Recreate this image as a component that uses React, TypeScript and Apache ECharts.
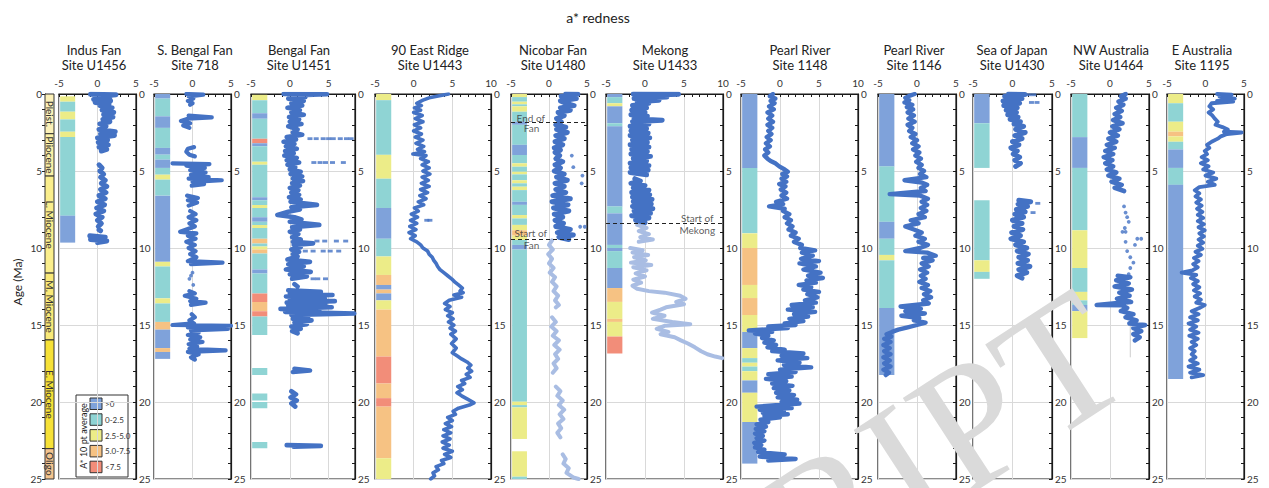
import React, { useEffect, useRef } from 'react';
import * as echarts from 'echarts';

// ---------- styling ----------
const FONT = 'Lato, "Liberation Sans", sans-serif';
const TRACE = '#4472c4';
const TRACE_LIGHT = '#a9bde3';
const STRIP_COLORS = ['#7fa2da', '#8fd4d4', '#ecec88', '#f6c283', '#f28d79'];
const LEGEND_LABELS = ['>0', '0-2.5', '2.5-5.0', '5.0-7.5', '<7.5'];

// ---------- geological time scale ----------
const epochNames = ['Pleist.', 'Pliocene', 'L. Miocene', 'M. Miocene', 'E. Miocene', 'Oligo'];
const epochSpans = [[0, 2.58, 0], [2.58, 5.33, 1], [5.33, 11.63, 2], [11.63, 15.97, 3], [15.97, 23.03, 4], [23.03, 25, 5]];
const epochColors = ['#fcf1b8', '#fbf0a6', '#faee8c', '#f9e978', '#f6e137', '#f4c48e'];

// ---------- a* records: [a*, age Ma]; strips: [topAge, bottomAge, class] ----------
const indusTrace = [
  [[-0.9, 0.02], [2.4, 0.05], [0.2, 0.15], [1.6, 0.25], [-0.5, 0.35], [1.7, 0.45], [-0.3, 0.55], [1.5, 0.65], [0.3, 0.75], [1.9, 0.9], [0.6, 1.05], [2.1, 1.2], [0.8, 1.35], [2.0, 1.5], [0.7, 1.65], [1.6, 1.8], [0.3, 1.95], [1.1, 2.1], [0.2, 2.3], [2.3, 2.45], [0.4, 2.6], [2.2, 2.7], [0.0, 2.85], [1.3, 3.0], [0.1, 3.15], [1.4, 3.3], [0.2, 3.45], [1.2, 3.6], [0.5, 3.7]],
  [[0.2, 4.6], [0.6, 4.8], [0.3, 5.0], [0.8, 5.2], [0.4, 5.4], [1.0, 5.6], [0.5, 5.8], [1.2, 6.0], [0.4, 6.2], [1.1, 6.4], [0.2, 6.6], [1.0, 6.8], [0.0, 7.0], [0.9, 7.2], [-0.1, 7.4], [0.8, 7.6], [-0.2, 7.8], [0.6, 8.0], [0.0, 8.2], [0.5, 8.4], [0.1, 8.6]],
  [[0.2, 8.82], [0.4, 8.88]],
  [[-1.0, 9.2], [1.0, 9.3], [-0.9, 9.45], [1.2, 9.55], [0.0, 9.65]],
];
const indusStrip = [[0.15, 0.5, 2], [0.5, 1.15, 1], [1.15, 1.65, 2], [1.65, 2.45, 1], [2.45, 2.8, 2], [2.8, 7.9, 1], [7.9, 9.65, 0]];

const sBengalTrace = [
  [[-0.8, 0.0], [1.4, 0.04], [-0.5, 0.15], [0.1, 0.3], [-0.6, 0.45], [0.0, 0.6], [-0.3, 0.7]],
  [[-0.5, 1.4], [2.5, 1.52], [-0.6, 1.6], [-1.5, 1.75], [-0.3, 1.9], [-1.2, 2.05], [-0.4, 2.2]],
  [[0.2, 3.45], [-0.6, 3.55], [-0.8, 3.75], [-0.4, 3.95], [0.3, 4.05]],
  [[-2.6, 4.5], [2.2, 4.55], [-0.8, 4.65], [1.6, 4.8], [-0.3, 4.95], [1.7, 5.1], [-0.2, 5.25], [2.1, 5.4], [-0.5, 5.5], [3.8, 5.6], [0.0, 5.7], [1.5, 5.85], [-0.1, 5.95]],
  [[-0.7, 6.6], [0.7, 6.75], [-0.6, 6.9], [0.6, 7.05], [-0.5, 7.25]],
  [[-0.3, 7.6], [0.4, 7.8], [-0.5, 8.0], [0.5, 8.2], [-0.4, 8.4], [0.3, 8.6], [-1.6, 8.95], [0.5, 9.05], [-0.6, 9.2], [0.4, 9.4], [-0.8, 9.6], [0.3, 9.8], [-0.5, 10.0], [0.4, 10.2], [-0.3, 10.4], [0.5, 10.6], [-0.6, 10.85], [3.9, 10.95], [-0.2, 11.05]],
  [[-0.4, 12.8], [0.3, 12.95], [-1.0, 13.1], [0.5, 13.3], [-0.3, 13.45], [1.7, 13.55], [-0.2, 13.7]],
  [[-0.1, 14.3], [0.3, 14.5], [-0.4, 14.7], [0.2, 14.9], [-2.6, 15.0], [5.0, 15.05], [-0.6, 15.15], [4.6, 15.25], [-0.2, 15.35], [0.8, 15.5], [-0.6, 15.65], [1.0, 15.8], [-0.3, 15.95], [1.3, 16.1], [-0.5, 16.25], [0.6, 16.4], [-0.4, 16.55], [4.3, 16.65], [-0.6, 16.75], [0.8, 16.9], [-0.2, 17.1], [0.3, 17.25]],
];
const sBengalDots = [[0.0, 11.6], [-0.2, 11.8], [-0.4, 12.0], [0.1, 12.4]];
const sBengalStrip = [[0, 0.3, 0], [0.3, 1.45, 1], [1.45, 2.2, 0], [2.2, 3.5, 1], [3.5, 3.94, 0], [3.94, 4.26, 1], [4.26, 4.8, 0], [4.8, 5.24, 1], [5.24, 5.56, 2], [5.56, 6.6, 1], [6.6, 10.9, 0], [10.9, 11.2, 2], [11.2, 13.27, 1], [13.27, 13.6, 2], [13.6, 14.8, 1], [14.8, 15.3, 3], [15.3, 16.5, 0], [16.5, 16.75, 3], [16.75, 17.2, 0]];

const bengalTrace = [
  [[-0.8, 0.0], [4.8, 0.02], [0.5, 0.1], [2.0, 0.2], [-0.2, 0.3], [1.8, 0.45], [0.2, 0.6], [1.6, 0.75], [-0.3, 0.9], [1.3, 1.05], [0.2, 1.2], [1.8, 1.35], [-0.1, 1.5], [1.2, 1.65], [0.0, 1.8], [1.5, 1.95], [-0.2, 2.1], [1.0, 2.3], [0.4, 2.5], [1.6, 2.65], [-0.4, 2.8], [0.8, 2.95], [-0.8, 3.1], [0.6, 3.25], [-0.5, 3.4], [0.9, 3.55], [-0.6, 3.7], [0.5, 3.85], [-0.7, 4.0], [0.9, 4.15], [-0.4, 4.3], [1.2, 4.45], [-0.3, 4.6], [0.7, 4.75], [0.0, 4.9], [1.4, 5.05], [0.1, 5.2], [1.6, 5.35], [0.4, 5.5], [1.7, 5.65], [0.3, 5.8], [1.3, 5.95], [0.0, 6.1], [1.1, 6.25], [0.2, 6.4], [1.2, 6.55], [-0.1, 6.7], [1.4, 6.85], [0.1, 7.0], [3.5, 7.2], [0.2, 7.35], [1.3, 7.5], [-0.2, 7.65], [-1.6, 7.85], [0.6, 8.0], [1.5, 8.15], [0.0, 8.3], [3.8, 8.5], [0.3, 8.65], [1.3, 8.8], [0.0, 8.95], [1.1, 9.1], [0.3, 9.3], [1.4, 9.45], [0.4, 9.6], [3.0, 9.7], [0.5, 9.8], [1.4, 9.95], [0.2, 10.1], [1.2, 10.25], [0.4, 10.4], [1.0, 10.55], [-0.3, 10.75], [2.6, 10.9], [-0.2, 11.05], [1.8, 11.2], [-0.5, 11.4], [2.7, 11.55], [0.0, 11.7], [2.2, 11.85], [0.3, 12.0]],
  [[0.6, 12.35], [1.0, 12.5]],
  [[-0.2, 12.75], [4.0, 12.85], [0.0, 12.95], [5.5, 13.05], [-0.5, 13.15], [4.5, 13.25], [0.0, 13.35], [5.8, 13.45], [-0.4, 13.55], [4.6, 13.65], [-0.2, 13.75], [5.4, 13.85], [-1.2, 13.95], [3.8, 14.05], [-0.6, 14.15], [8.3, 14.25], [0.2, 14.35], [2.4, 14.45]],
  [[0.4, 14.6], [2.8, 14.7], [0.6, 14.85], [2.2, 14.95], [0.2, 15.1], [1.4, 15.25], [0.3, 15.4], [1.0, 15.55]],
  [[0.6, 17.85], [2.6, 17.95], [0.4, 18.05]],
  [[0.2, 19.3], [0.8, 19.5], [0.1, 19.7], [0.9, 19.9], [0.2, 20.1], [0.7, 20.3]],
  [[-0.4, 22.8], [4.0, 22.85], [0.5, 22.9]],
];
const bengalDashes = [[2.6, 2.9], [3.4, 2.9], [4.3, 2.9], [5.0, 2.9], [5.6, 2.9], [6.5, 2.9], [7.3, 2.9], [7.9, 2.9], [3.1, 4.45], [3.9, 4.45], [4.6, 4.45], [5.5, 4.45], [6.9, 4.45], [3.5, 9.55], [4.5, 9.55], [6.0, 9.55], [7.2, 9.55], [2.0, 10.2], [3.0, 10.2], [4.3, 10.2], [5.2, 10.2], [6.3, 10.2], [3.0, 12.0], [3.6, 12.0], [4.6, 12.0]];
const bengalStrip = [[0.05, 0.4, 2], [0.4, 1.25, 1], [1.25, 1.6, 0], [1.6, 2.9, 1], [2.9, 3.2, 4], [3.2, 3.4, 0], [3.4, 4.4, 1], [4.4, 4.6, 2], [4.6, 6.7, 1], [6.7, 6.9, 0], [6.9, 7.2, 1], [7.2, 7.4, 2], [7.4, 8.0, 1], [8.0, 8.3, 0], [8.3, 8.5, 1], [8.5, 8.7, 2], [8.7, 9.4, 1], [9.4, 9.7, 3], [9.7, 9.9, 1], [9.9, 10.1, 2], [10.1, 10.35, 3], [10.35, 11.4, 1], [11.4, 11.65, 0], [11.65, 12.95, 1], [12.95, 13.5, 4], [13.5, 14.1, 3], [14.1, 14.45, 4], [14.45, 15.65, 1], [17.8, 18.25, 1], [19.45, 19.9, 1], [20.0, 20.4, 1], [22.6, 23.0, 1]];

const ninetyEastTrace = [
  [[4.5, 0.0], [3.5, 0.1], [2.0, 0.25], [1.2, 0.4], [0.4, 0.6], [1.0, 0.75], [0.1, 0.9], [0.9, 1.05], [0.0, 1.2], [1.1, 1.4], [0.2, 1.6], [1.2, 1.8], [0.1, 2.0], [0.9, 2.2], [0.0, 2.4], [1.0, 2.6], [0.2, 2.8], [1.2, 3.0], [0.3, 3.2], [1.3, 3.4], [0.5, 3.6], [1.4, 3.75], [-0.1, 3.9], [1.6, 4.0], [0.9, 4.2], [1.9, 4.4], [1.1, 4.6], [2.0, 4.8], [1.2, 5.0], [2.1, 5.2], [1.1, 5.4], [1.9, 5.6], [1.0, 5.8], [2.0, 6.0], [0.9, 6.2], [1.8, 6.4], [0.8, 6.6], [1.6, 6.8], [0.6, 7.0], [1.3, 7.2], [0.1, 7.4], [0.6, 7.6], [-0.3, 7.8], [0.5, 8.0], [-0.4, 8.2], [0.4, 8.4], [-0.5, 8.6], [0.3, 8.8], [-0.6, 9.0], [0.2, 9.2], [-0.4, 9.4], [0.4, 9.6], [0.9, 9.8], [1.2, 10.0], [1.8, 10.2], [2.0, 10.4], [2.4, 10.6], [2.6, 10.8], [2.9, 11.0], [3.1, 11.2], [3.4, 11.4], [3.9, 11.6], [4.4, 11.8], [4.9, 12.0], [5.3, 12.2], [5.8, 12.4], [6.3, 12.6], [6.0, 12.8], [6.4, 12.9], [5.2, 13.05], [6.2, 13.2], [4.6, 13.4], [4.0, 13.6], [4.7, 13.8], [4.1, 14.0], [5.0, 14.2], [4.4, 14.4], [5.1, 14.6], [4.5, 14.8], [5.2, 15.0], [4.7, 15.2], [5.4, 15.4], [4.8, 15.6], [5.5, 15.9], [4.9, 16.2], [5.5, 16.5], [5.0, 16.8], [5.6, 17.0], [6.2, 17.2], [6.9, 17.4], [7.4, 17.6], [7.0, 17.8], [7.5, 18.0], [6.8, 18.2], [7.3, 18.4], [6.2, 18.6], [6.6, 18.8], [5.7, 19.0], [6.3, 19.2], [5.6, 19.4], [6.2, 19.6], [6.9, 19.8], [7.8, 20.05], [7.2, 20.2], [5.8, 20.4], [5.1, 20.6], [5.4, 20.8], [4.4, 21.0], [5.0, 21.2], [4.1, 21.4], [4.9, 21.6], [3.9, 21.8], [4.8, 22.0], [3.8, 22.2], [4.7, 22.4], [3.7, 22.6], [4.6, 22.8], [3.8, 23.0], [5.0, 23.2], [4.0, 23.4], [4.8, 23.6], [3.6, 23.8], [3.9, 24.0], [2.9, 24.2], [3.2, 24.4], [2.5, 24.6], [2.7, 24.8], [2.2, 25.0]],
];
const ninetyEastDashes = [[1.7, 8.2], [2.1, 8.2]];
const ninetyEastStrip = [[0, 0.4, 2], [0.4, 3.95, 1], [3.95, 5.5, 2], [5.5, 7.4, 1], [7.4, 9.4, 0], [9.4, 10.55, 1], [10.55, 11.75, 2], [11.75, 12.4, 3], [12.4, 12.7, 0], [12.7, 12.95, 3], [12.95, 13.4, 0], [13.4, 14.0, 2], [14.0, 17.05, 3], [17.05, 18.8, 4], [18.8, 19.75, 3], [19.75, 20.3, 4], [20.3, 23.65, 3], [23.65, 25, 2]];

const nicobarTrace = [
  [[2.2, 0.0], [3.8, 0.02], [1.6, 0.15], [3.6, 0.3], [1.5, 0.45], [2.2, 0.6], [3.3, 0.75], [1.5, 0.9], [2.8, 1.05], [1.2, 1.2], [2.0, 1.4], [1.0, 1.6], [1.6, 1.8], [0.9, 2.0], [2.2, 2.15], [1.0, 2.3], [2.4, 2.5], [0.9, 2.7], [2.0, 2.9], [0.8, 3.1], [1.8, 3.3], [0.7, 3.5], [1.5, 3.65], [0.8, 3.8], [1.4, 4.0], [0.9, 4.2], [1.8, 4.4], [0.8, 4.6], [1.5, 4.8], [0.7, 5.0], [2.0, 5.2], [1.0, 5.4], [2.4, 5.6], [0.8, 5.8], [2.0, 6.0], [0.9, 6.2], [2.2, 6.4], [0.5, 6.6], [2.8, 6.8], [0.4, 7.0], [2.5, 7.2], [0.6, 7.4], [2.6, 7.6], [0.7, 7.8], [1.8, 8.0], [0.8, 8.2], [1.9, 8.4], [0.9, 8.6], [2.8, 8.8], [1.1, 9.0], [3.2, 9.15], [1.3, 9.3], [2.6, 9.45]],
];
const nicobarDots = [[3.0, 4.0], [3.2, 4.75], [4.4, 5.3], [4.3, 5.8], [4.1, 8.62], [4.7, 8.62]];
const nicobarLower = [
  [[0.4, 9.5], [0.0, 9.8], [0.5, 10.1], [-0.1, 10.4], [0.4, 10.7], [0.0, 11.0], [0.6, 11.3], [0.1, 11.6], [0.8, 11.9], [0.4, 12.2], [1.0, 12.5], [0.6, 12.8], [1.2, 13.1], [0.8, 13.4], [1.3, 13.7], [0.9, 13.85]],
  [[0.4, 14.5], [0.9, 14.8], [0.3, 15.1], [1.0, 15.4], [0.5, 15.7], [1.3, 16.0], [0.7, 16.3], [1.4, 16.6], [0.8, 16.9], [1.2, 17.2], [0.6, 17.5], [1.0, 17.8], [0.5, 18.1]],
  [[0.9, 19.0], [1.5, 19.3], [1.1, 19.6], [1.8, 19.9], [1.3, 20.2], [2.0, 20.5], [1.4, 20.8], [1.9, 21.1], [1.2, 21.4], [1.6, 21.7], [1.1, 22.0], [1.5, 22.3]],
  [[1.8, 23.4], [2.2, 23.7], [1.9, 24.0], [2.6, 24.3], [2.3, 24.6], [3.2, 24.9], [3.9, 25.0]],
];
const nicobarStrip = [[0, 0.2, 2], [0.2, 0.5, 1], [0.5, 0.67, 2], [0.67, 0.8, 1], [0.8, 1.15, 2], [1.15, 1.8, 1], [1.8, 2.0, 0], [2.0, 3.3, 1], [3.3, 3.96, 0], [3.96, 4.5, 1], [4.5, 4.72, 2], [4.72, 5.05, 1], [5.05, 5.22, 2], [5.22, 5.6, 1], [5.6, 5.8, 2], [5.8, 6.02, 1], [6.02, 6.24, 2], [6.24, 7.0, 1], [7.0, 7.2, 0], [7.2, 7.86, 1], [7.86, 8.08, 2], [8.08, 8.5, 1], [8.5, 8.85, 2], [8.85, 9.2, 3], [9.2, 9.48, 2], [9.48, 9.8, 1], [9.8, 10.1, 0], [10.1, 19.98, 1], [19.98, 20.2, 2], [20.2, 20.35, 1], [20.35, 22.4, 2], [23.2, 24.85, 2], [24.85, 25, 1]];
const nicobarEvents = [1.86, 9.42];
const nicobarNotes = [{ text: 'End of', a: -2.4, age: 1.54 }, { text: 'Fan', a: -2.3, age: 2.23 }, { text: 'Start of', a: -2.4, age: 9.05 }, { text: 'Fan', a: -2.3, age: 9.8 }];

const mekongTrace = [
  [[-1.5, 0.0], [4.3, 0.01], [-0.5, 0.1], [2.8, 0.2], [-1.4, 0.3], [1.8, 0.4], [-1.0, 0.5], [0.5, 0.6], [-1.6, 0.75], [0.2, 0.9], [-1.7, 1.05], [0.0, 1.2], [-1.8, 1.35], [0.3, 1.45], [-1.4, 1.6], [2.2, 1.7], [-1.6, 1.8], [0.5, 1.95], [-1.9, 2.1], [0.2, 2.25], [-1.8, 2.4], [0.4, 2.55], [-1.9, 2.7], [0.6, 2.85], [-1.6, 3.0], [0.3, 3.15], [-1.9, 3.3], [0.5, 3.45], [-1.7, 3.6], [0.3, 3.75], [-1.8, 3.9], [0.7, 4.05], [-1.5, 4.2], [0.2, 4.35], [-1.9, 4.5], [0.5, 4.65], [-1.8, 4.8], [0.4, 4.95], [-1.9, 5.1], [0.2, 5.25]],
  [[-1.3, 5.5], [-0.6, 5.65], [-1.8, 5.8], [0.0, 5.95], [-1.5, 6.1], [0.5, 6.25], [-1.7, 6.4], [0.6, 6.55], [-1.6, 6.7], [0.9, 6.85], [-1.5, 7.0], [0.8, 7.15], [-1.6, 7.3], [1.0, 7.45], [-1.4, 7.6], [0.7, 7.75], [-1.7, 7.9], [0.5, 8.05], [-1.2, 8.2], [0.0, 8.35]],
];
const mekongLower = [
  [[-1.0, 8.5], [0.2, 8.7], [-0.8, 8.9], [0.5, 9.1], [-0.6, 9.3], [1.0, 9.45], [-0.8, 9.6]],
  [[-1.9, 10.0], [-0.3, 10.15], [-1.6, 10.3], [0.4, 10.45], [-1.4, 10.6], [0.1, 10.8], [-1.8, 10.95], [0.8, 11.1], [-1.5, 11.25], [0.2, 11.45], [-1.2, 11.65], [0.0, 11.85], [-1.5, 12.05], [-0.5, 12.25], [-1.6, 12.45], [-1.0, 12.65], [0.5, 12.8], [2.5, 12.9], [4.5, 13.1], [5.2, 13.3], [4.0, 13.5], [5.0, 13.65], [2.7, 13.85], [2.0, 14.0], [0.9, 14.2], [2.5, 14.4], [1.0, 14.6], [3.5, 14.8], [5.8, 14.95], [2.5, 15.05], [1.5, 15.25], [3.0, 15.45], [2.0, 15.6], [3.8, 15.8], [4.6, 16.0], [5.5, 16.2], [6.4, 16.45], [7.2, 16.7], [8.0, 16.9], [9.0, 17.05], [9.9, 17.15]],
];
const mekongStrip = [[0, 0.2, 0], [0.2, 0.6, 1], [0.6, 0.8, 2], [0.8, 1.9, 0], [1.9, 2.1, 1], [2.1, 7.3, 0], [7.3, 7.75, 1], [7.75, 9.8, 0], [9.8, 10.0, 1], [10.0, 10.2, 0], [10.2, 11.3, 1], [11.3, 12.6, 0], [12.6, 13.5, 3], [13.5, 14.6, 2], [14.6, 14.8, 3], [14.8, 15.75, 2], [15.75, 16.85, 4]];
const mekongEvents = [8.38];
const mekongNotes = [{ text: 'Start of', a: 6.7, age: 8.03 }, { text: 'Mekong', a: 6.7, age: 8.83 }];

const pearl1148Trace = [
  [[-0.9, 0.0], [-1.3, 0.15], [-0.6, 0.3], [-1.2, 0.45], [-0.7, 0.6], [-1.4, 0.8], [-0.8, 1.0], [-1.6, 1.2], [-1.0, 1.4], [-1.5, 1.6], [-0.9, 1.8], [-1.6, 2.0], [-1.0, 2.2], [-1.5, 2.4], [-1.1, 2.6], [-1.7, 2.8], [-1.2, 3.0], [-1.8, 3.2], [-1.3, 3.4], [-1.9, 3.6], [-1.5, 3.8], [-2.0, 4.0], [-1.6, 4.2], [-1.2, 4.35], [-0.6, 4.5], [-0.1, 4.7], [0.6, 4.9], [1.0, 5.05], [0.3, 5.2], [0.9, 5.35], [0.2, 5.5], [0.8, 5.7], [-0.1, 5.85], [0.7, 6.0], [0.1, 6.2], [0.8, 6.4], [0.2, 6.6], [0.9, 6.8], [-0.5, 7.0], [0.4, 7.15], [-1.4, 7.3], [0.6, 7.45], [0.4, 7.6], [1.2, 7.8], [0.6, 8.0], [1.4, 8.2], [0.9, 8.4], [1.6, 8.6], [1.1, 8.8], [2.0, 9.0], [1.4, 9.2], [2.4, 9.4], [1.8, 9.6], [2.8, 9.8], [2.6, 10.0], [4.5, 10.15], [2.8, 10.3], [4.2, 10.5], [2.7, 10.7], [5.0, 10.85], [2.5, 11.0], [4.6, 11.2], [3.0, 11.4], [5.2, 11.6], [3.6, 11.8], [5.5, 11.95], [3.4, 12.1], [4.6, 12.25], [2.4, 12.4], [4.0, 12.55], [3.0, 12.7], [5.0, 12.85], [3.5, 13.0], [4.8, 13.2], [3.2, 13.4], [4.6, 13.55], [1.5, 13.7], [4.2, 13.85], [1.0, 14.0], [4.5, 14.15], [1.8, 14.3], [3.6, 14.45], [1.2, 14.6], [3.0, 14.75], [0.6, 14.9], [2.0, 15.0], [-1.5, 15.1], [1.0, 15.2], [-4.0, 15.35], [-1.0, 15.45], [-3.2, 15.55], [-1.5, 15.7], [-2.3, 15.85], [-0.8, 16.0], [-2.0, 16.15], [-0.5, 16.3], [-1.6, 16.45], [0.6, 16.6], [-1.0, 16.7], [3.0, 16.85], [0.2, 17.0], [3.5, 17.15], [-0.3, 17.3], [2.5, 17.45], [0.5, 17.6], [4.0, 17.75], [0.0, 17.9], [2.0, 18.05], [-1.5, 18.2], [1.5, 18.35], [-1.8, 18.5], [0.8, 18.65], [-1.0, 18.8], [1.6, 18.95], [-0.8, 19.1], [1.2, 19.25], [-0.5, 19.4], [1.8, 19.55], [-0.3, 19.7], [2.2, 19.85], [0.2, 20.0], [2.5, 20.1], [-3.0, 20.3], [1.5, 20.4], [-2.6, 20.5], [0.5, 20.6], [-2.2, 20.7], [1.0, 20.8], [-2.0, 20.9], [0.0, 21.0], [-2.5, 21.15], [-1.5, 21.3], [-3.0, 21.45], [-1.8, 21.6], [-3.1, 21.75], [-2.0, 21.9], [-3.2, 22.05], [-2.2, 22.2], [-3.0, 22.35], [-2.0, 22.5], [-3.3, 22.65], [-2.4, 22.8], [-3.2, 22.95], [-2.0, 23.1], [-2.8, 23.25], [0.6, 23.4], [-2.6, 23.55], [2.0, 23.7], [-1.5, 23.8]],
];
const pearl1148Strip = [[0, 4.8, 0], [4.8, 9.05, 1], [9.05, 10.0, 2], [10.0, 12.4, 3], [12.4, 13.25, 2], [13.25, 14.35, 3], [14.35, 15.45, 2], [15.45, 16.5, 0], [16.5, 17.15, 2], [17.15, 17.45, 1], [17.45, 17.7, 2], [17.7, 18.0, 1], [18.0, 18.6, 2], [18.6, 19.4, 0], [19.4, 21.3, 2], [21.3, 24.0, 0]];

const pearl1146Trace = [
  [[-0.3, 0.0], [-0.9, 0.1], [-1.5, 0.25], [-1.0, 0.4], [-1.6, 0.55], [-0.6, 0.7], [-1.3, 0.85], [-0.5, 1.0], [-1.2, 1.2], [-0.4, 1.4], [-1.1, 1.6], [-0.3, 1.8], [-1.2, 2.0], [-0.6, 2.2], [-1.0, 2.4], [-0.2, 2.6], [-0.8, 2.8], [0.0, 3.0], [-0.6, 3.2], [0.2, 3.4], [-0.5, 3.6], [0.3, 3.8], [-0.2, 4.0], [0.5, 4.2], [-0.1, 4.4], [0.6, 4.6], [0.2, 4.8], [0.9, 5.0], [0.4, 5.2], [1.2, 5.4], [-1.6, 5.6], [0.6, 5.75], [1.3, 5.9], [0.5, 6.1], [1.1, 6.3], [-3.5, 6.5], [0.4, 6.6], [1.4, 6.8], [0.6, 7.0], [1.3, 7.2], [0.5, 7.4], [1.2, 7.6], [0.2, 7.8], [1.0, 8.0], [-0.8, 8.2], [0.2, 8.4], [-1.5, 8.6], [-0.4, 8.8], [0.6, 9.0], [-0.2, 9.2], [1.0, 9.4], [0.2, 9.6], [1.4, 9.8], [0.4, 10.0], [-1.5, 10.2], [1.3, 10.3], [2.4, 10.5], [0.8, 10.65], [2.0, 10.8], [0.6, 11.0], [1.5, 11.2], [0.4, 11.4], [1.3, 11.6], [0.5, 11.8], [1.1, 12.0], [0.3, 12.2], [1.4, 12.4], [0.6, 12.6], [1.7, 12.8], [0.9, 13.0], [1.8, 13.2], [0.8, 13.4], [1.5, 13.6], [-2.1, 13.8], [0.5, 13.95], [-1.5, 14.1], [1.0, 14.25], [-2.0, 14.4], [0.3, 14.55], [-0.4, 14.7], [1.1, 14.85], [0.0, 15.0], [-1.2, 15.15], [-2.4, 15.3], [-3.2, 15.45], [-3.9, 15.6], [-3.3, 15.75], [-4.2, 15.9], [-3.4, 16.1], [-4.3, 16.3], [-3.5, 16.5], [-4.2, 16.7], [-3.4, 16.9], [-4.3, 17.1], [-3.5, 17.3], [-4.2, 17.5], [-3.4, 17.7], [-4.3, 17.9], [-3.6, 18.1], [-4.0, 18.25]],
];
const pearl1146Strip = [[0, 4.7, 0], [4.7, 8.3, 1], [8.3, 9.4, 0], [9.4, 10.45, 1], [10.45, 10.8, 2], [10.8, 13.9, 1], [13.9, 18.25, 0]];

const japanTrace = [
  [[-0.5, 0.0], [1.6, 0.03], [-1.0, 0.15], [1.2, 0.3], [-1.2, 0.45], [0.9, 0.6], [-1.1, 0.75], [0.6, 0.9], [-0.8, 1.05], [0.5, 1.2], [-0.6, 1.35], [0.7, 1.5], [-0.3, 1.65], [1.0, 1.8], [0.2, 1.95], [1.4, 2.1], [0.4, 2.3], [1.6, 2.5], [0.3, 2.7], [1.2, 2.9], [0.0, 3.1], [0.8, 3.3], [-0.2, 3.5], [0.6, 3.7], [0.1, 3.9], [0.9, 4.1], [0.3, 4.3], [1.0, 4.5], [0.4, 4.7]],
  [[0.8, 6.9], [2.3, 7.0], [0.7, 7.15], [1.9, 7.3], [0.5, 7.5], [1.6, 7.65], [0.3, 7.8], [1.4, 8.0], [0.0, 8.2], [1.2, 8.4], [0.2, 8.6], [1.3, 8.8], [-0.1, 9.0], [1.0, 9.2], [-0.2, 9.4], [1.4, 9.6], [0.4, 9.8], [1.8, 10.0], [0.6, 10.2], [2.0, 10.4], [0.8, 10.6], [1.9, 10.8], [0.7, 11.0], [2.2, 11.2], [0.8, 11.4], [1.8, 11.6], [0.6, 11.8], [1.2, 11.95]],
];
const japanDashes = [[2.1, 0.05], [2.7, 0.05], [2.4, 0.55], [3.1, 0.55], [3.2, 7.1], [2.6, 7.7]];
const japanStrip = [[0, 1.9, 0], [1.9, 4.8, 1], [6.9, 10.8, 1], [10.8, 11.55, 2], [11.55, 12.0, 1]];

const nwAusTrace = [
  [[2.0, 0.0], [1.4, 0.15], [2.0, 0.3], [1.1, 0.5], [1.7, 0.7], [0.8, 0.9], [1.5, 1.1], [0.6, 1.3], [1.3, 1.5], [0.4, 1.7], [1.6, 1.9], [0.3, 2.1], [1.2, 2.3], [0.0, 2.5], [1.0, 2.7], [-0.2, 2.9], [0.8, 3.1], [-0.4, 3.3], [0.6, 3.5], [-0.6, 3.7], [0.4, 3.9], [-0.8, 4.1], [0.3, 4.3], [-0.6, 4.5], [0.4, 4.7], [-0.4, 4.9], [0.8, 5.1], [-0.2, 5.3], [1.2, 5.5], [0.2, 5.7], [1.5, 5.9], [0.6, 6.1], [1.8, 6.3]],
  [[1.0, 11.8], [2.6, 11.9], [0.8, 12.1], [2.4, 12.3], [0.6, 12.5], [2.8, 12.7], [1.2, 12.9], [2.5, 13.1], [0.9, 13.3], [2.7, 13.5], [-1.7, 13.7], [1.5, 13.72], [2.2, 13.9], [1.4, 14.1], [3.0, 14.3], [2.0, 14.5], [3.4, 14.7], [2.5, 14.9], [4.5, 15.0], [3.0, 15.2], [4.0, 15.4], [3.0, 15.6], [3.8, 15.8], [3.2, 16.0]],
];
const nwAusDots = [[1.8, 7.3], [2.0, 7.7], [2.2, 8.0], [2.4, 8.3], [1.9, 8.7], [1.6, 8.95], [2.0, 8.95], [3.5, 9.4], [4.0, 9.4], [2.0, 9.6], [3.2, 9.8], [2.2, 10.2], [2.6, 10.6], [3.0, 10.95], [2.6, 11.3], [2.4, 11.7]];
const nwAusRefLine = [[2.6, 14.6], [2.6, 17.1]];
const nwAusStrip = [[0, 2.8, 1], [2.8, 4.8, 0], [4.8, 8.85, 1], [8.85, 11.3, 2], [11.3, 12.85, 1], [12.85, 13.4, 2], [13.4, 13.7, 1], [13.7, 14.1, 0], [14.1, 15.85, 2]];

const eAusTrace = [
  [[1.5, 0.0], [3.4, 0.05], [1.8, 0.15], [3.8, 0.3], [1.5, 0.45], [3.6, 0.5], [0.8, 0.6], [0.5, 0.8], [1.0, 1.0], [0.4, 1.2], [0.9, 1.4], [1.2, 1.6], [1.6, 1.8], [1.3, 2.0], [2.2, 2.15], [2.9, 2.3], [2.4, 2.45], [4.7, 2.5], [2.8, 2.6], [2.0, 2.75], [1.6, 2.9], [0.8, 3.1], [0.2, 3.3], [0.5, 3.5], [-0.1, 3.7], [0.2, 3.9], [-0.5, 4.1], [0.3, 4.3], [-0.6, 4.5], [0.4, 4.7], [-0.3, 4.9], [1.0, 5.1], [0.0, 5.3], [1.4, 5.5], [0.3, 5.7], [1.2, 5.9], [-0.8, 6.05], [-1.4, 6.25], [-0.8, 6.45], [-1.3, 6.65], [-0.6, 6.85], [-1.2, 7.05], [-0.5, 7.25], [-1.1, 7.45], [-0.4, 7.65], [-1.0, 7.85], [-0.3, 8.05], [-1.0, 8.25], [-0.2, 8.45], [-0.9, 8.65], [-0.1, 8.85], [-0.8, 9.05], [-0.2, 9.25], [-0.9, 9.45], [-0.3, 9.65], [-1.0, 9.85], [-0.4, 10.05], [-1.3, 10.25], [-0.6, 10.45], [-1.5, 10.65], [-0.9, 10.85], [-1.6, 11.05], [-1.0, 11.25], [-1.7, 11.45], [-3.1, 11.6], [-1.2, 11.75], [-1.9, 11.95], [-1.0, 12.15], [-1.6, 12.35], [-0.8, 12.55], [-1.5, 12.75], [-0.7, 12.95], [-1.4, 13.15], [-0.6, 13.35], [-1.2, 13.55], [-0.1, 13.7], [-0.8, 13.9], [-1.8, 14.1], [-0.9, 14.3], [-2.0, 14.5], [-1.0, 14.7], [-2.2, 14.9], [-1.2, 15.1], [-2.0, 15.3], [-0.9, 15.5], [-2.1, 15.7], [-1.0, 15.9], [-1.8, 16.1], [-1.2, 16.3], [-2.0, 16.5], [-1.4, 16.7], [-1.8, 16.9], [-1.3, 17.1], [-2.0, 17.3], [-1.0, 17.5], [-2.2, 17.7], [-0.8, 17.9], [-2.0, 18.1], [-0.3, 18.25], [-1.8, 18.4]],
];
const eAusStrip = [[0, 0.6, 2], [0.6, 1.8, 1], [1.8, 2.45, 2], [2.45, 2.75, 3], [2.75, 3.1, 2], [3.1, 3.6, 1], [3.6, 4.8, 0], [4.8, 5.9, 1], [5.9, 18.5, 0]];

// ---------- panel layout ----------
type Panel = {
  name: string; site: string; left: number; width: number; xMax: number; titleX: number; lineW: number;
  trace: number[][][]; strip: number[][];
  lower?: number[][][]; dashes?: number[][]; dots?: number[][]; ref?: number[][];
  events?: number[]; notes?: { text: string; a: number; age: number }[];
};

const panels: Panel[] = [
  { name: 'Indus Fan', site: 'Site U1456', left: 59, width: 77, xMax: 5, titleX: 94, lineW: 5, trace: indusTrace, strip: indusStrip },
  { name: 'S. Bengal Fan', site: 'Site 718', left: 154, width: 77, xMax: 5, titleX: 195, lineW: 4.2, trace: sBengalTrace, strip: sBengalStrip, dots: sBengalDots },
  { name: 'Bengal Fan', site: 'Site U1451', left: 251, width: 104, xMax: 8.4, titleX: 299, lineW: 4.6, trace: bengalTrace, strip: bengalStrip, dashes: bengalDashes },
  { name: '90 East Ridge', site: 'Site U1443', left: 375, width: 116, xMax: 10, titleX: 430, lineW: 3.6, trace: ninetyEastTrace, strip: ninetyEastStrip, dashes: ninetyEastDashes },
  { name: 'Nicobar Fan', site: 'Site U1480', left: 511, width: 76, xMax: 5, titleX: 553, lineW: 5, trace: nicobarTrace, strip: nicobarStrip, lower: nicobarLower, dots: nicobarDots, events: nicobarEvents, notes: nicobarNotes },
  { name: 'Mekong', site: 'Site U1433', left: 606, width: 117, xMax: 10, titleX: 665, lineW: 5, trace: mekongTrace, strip: mekongStrip, lower: mekongLower, events: mekongEvents, notes: mekongNotes },
  { name: 'Pearl River', site: 'Site 1148', left: 741, width: 117, xMax: 10, titleX: 800, lineW: 4.4, trace: pearl1148Trace, strip: pearl1148Strip },
  { name: 'Pearl River', site: 'Site 1146', left: 878, width: 78, xMax: 5, titleX: 914, lineW: 4.4, trace: pearl1146Trace, strip: pearl1146Strip },
  { name: 'Sea of Japan', site: 'Site U1430', left: 973, width: 79, xMax: 5, titleX: 1012, lineW: 5, trace: japanTrace, strip: japanStrip, dashes: japanDashes },
  { name: 'NW Australia', site: 'Site U1464', left: 1071, width: 78, xMax: 5, titleX: 1111, lineW: 4.6, trace: nwAusTrace, strip: nwAusStrip, dots: nwAusDots, ref: nwAusRefLine },
  { name: 'E Australia', site: 'Site 1195', left: 1167, width: 77, xMax: 5, titleX: 1202, lineW: 3.8, trace: eAusTrace, strip: eAusStrip },
];

const TOP = 94;
const HEIGHT = 385;
const STRIP_LEFT = -4.85;
const STRIP_RIGHT = -2.9;

const fmt5 = (v: number) => (Math.abs(v % 5) < 1e-6 ? String(v) : '');
const withBreaks = (segs: number[][][]) =>
  segs.flatMap((s, k) => (k ? [['-', '-'], ...s] : s));

const labelStyle = { fontSize: 10, color: '#333', fontFamily: FONT };

function buildOption() {
  const grid: any[] = [{ left: 45, top: TOP, width: 9, height: HEIGHT, show: false }];
  const xAxis: any[] = [{ type: 'value', gridIndex: 0, min: 0, max: 1, show: false }];
  const yAxis: any[] = [{
    type: 'value', gridIndex: 0, inverse: true, min: 0, max: 25, interval: 1, position: 'left',
    axisLine: { show: true, onZero: false, lineStyle: { color: '#222' } },
    axisTick: { show: true, length: 3, lineStyle: { color: '#222' } },
    axisLabel: { ...labelStyle, formatter: fmt5, margin: 3 },
    splitLine: { show: false },
  }];
  const series: any[] = [{
    type: 'custom', xAxisIndex: 0, yAxisIndex: 0, data: epochSpans, silent: true,
    renderItem: (_p: any, api: any) => {
      const a = api.coord([0, api.value(0)]);
      const b = api.coord([1, api.value(1)]);
      const idx = api.value(2);
      return {
        type: 'group',
        children: [
          { type: 'rect', shape: { x: a[0], y: a[1], width: b[0] - a[0], height: b[1] - a[1] }, style: { fill: epochColors[idx], stroke: '#333', lineWidth: 1 } },
          { type: 'text', x: (a[0] + b[0]) / 2, y: (a[1] + b[1]) / 2, rotation: -Math.PI / 2, style: { text: epochNames[idx], textAlign: 'center', textVerticalAlign: 'middle', fontSize: 10, fontFamily: FONT, fill: '#333' } },
        ],
      };
    },
  }];

  panels.forEach((p, i) => {
    const g = i + 1;
    grid.push({ left: p.left, top: TOP, width: p.width, height: HEIGHT, show: true, borderColor: '#1a1a1a', borderWidth: 1.2, backgroundColor: '#fff' });
    const xi = xAxis.length;
    xAxis.push(
      {
        type: 'value', gridIndex: g, position: 'top', min: -5, max: p.xMax, interval: 1,
        axisLine: { show: true, onZero: false, lineStyle: { color: '#1a1a1a', width: 1.2 } },
        axisTick: { show: true, inside: true, length: 3, lineStyle: { color: '#1a1a1a' } },
        axisLabel: { ...labelStyle, formatter: fmt5, margin: 6 },
        splitLine: { show: false },
      },
      {
        type: 'value', gridIndex: g, position: 'bottom', min: -5, max: p.xMax, interval: 5,
        axisLine: { show: false, onZero: false }, axisTick: { show: false }, axisLabel: { show: false },
        splitLine: { show: true, lineStyle: { color: '#d9d9d9', width: 1 } },
      },
    );
    const yi = yAxis.length;
    yAxis.push(
      {
        type: 'value', gridIndex: g, position: 'right', inverse: true, min: 0, max: 25, interval: 1,
        axisLine: { show: true, onZero: false, lineStyle: { color: '#1a1a1a', width: 1.2 } },
        axisTick: { show: true, inside: true, length: 3, lineStyle: { color: '#1a1a1a' } },
        axisLabel: { ...labelStyle, formatter: fmt5, margin: 3 },
        splitLine: { show: false },
      },
      {
        type: 'value', gridIndex: g, position: 'left', inverse: true, min: 0, max: 25, interval: 5,
        axisLine: { show: false, onZero: false }, axisTick: { show: false }, axisLabel: { show: false },
        splitLine: { show: true, lineStyle: { color: '#d9d9d9', width: 1 } },
      },
    );

    // 10-point-average colour strip
    series.push({
      type: 'custom', xAxisIndex: xi, yAxisIndex: yi, data: p.strip, silent: true, z: 1,
      renderItem: (_pa: any, api: any) => {
        const a = api.coord([STRIP_LEFT, api.value(0)]);
        const b = api.coord([STRIP_RIGHT, api.value(1)]);
        return { type: 'rect', shape: { x: a[0], y: a[1], width: b[0] - a[0], height: b[1] - a[1] }, style: { fill: STRIP_COLORS[api.value(2)] } };
      },
    });

    if (p.ref) {
      series.push({ type: 'line', xAxisIndex: xi, yAxisIndex: yi, data: p.ref, symbol: 'none', silent: true, z: 2, lineStyle: { color: '#cdcdcd', width: 1 } });
    }

    if (p.lower) {
      series.push({
        type: 'line', xAxisIndex: xi, yAxisIndex: yi, data: withBreaks(p.lower), symbol: 'none', silent: true, z: 3,
        connectNulls: false, lineStyle: { color: TRACE_LIGHT, width: 4, cap: 'round', join: 'round' },
      });
    }

    const main: any = {
      type: 'line', xAxisIndex: xi, yAxisIndex: yi, data: withBreaks(p.trace), symbol: 'none', silent: true, z: 4,
      connectNulls: false, lineStyle: { color: TRACE, width: p.lineW, cap: 'round', join: 'round' },
    };
    if (p.events) {
      main.markLine = {
        silent: true, symbol: 'none', label: { show: false },
        lineStyle: { type: [4, 3], color: '#222', width: 1 },
        data: p.events.map((age) => ({ yAxis: age })),
      };
    }
    series.push(main);

    if (p.dashes) {
      series.push({ type: 'scatter', xAxisIndex: xi, yAxisIndex: yi, data: p.dashes, symbol: 'rect', symbolSize: [5, 2.8], silent: true, z: 4, itemStyle: { color: TRACE } });
    }
    if (p.dots) {
      series.push({ type: 'scatter', xAxisIndex: xi, yAxisIndex: yi, data: p.dots, symbol: 'circle', symbolSize: 3.8, silent: true, z: 4, itemStyle: { color: TRACE } });
    }
    if (p.notes) {
      series.push({
        type: 'scatter', xAxisIndex: xi, yAxisIndex: yi, symbolSize: 0, silent: true, z: 6,
        data: p.notes.map((n) => ({ value: [n.a, n.age], name: n.text })),
        label: { show: true, position: 'inside', formatter: '{b}', fontSize: 10, color: '#333', fontFamily: FONT },
      });
    }
  });

  const titles: any[] = [];
  panels.forEach((p) => {
    titles.push(
      { type: 'text', x: p.titleX, y: 50, style: { text: p.name, textAlign: 'center', textVerticalAlign: 'middle', fontSize: 13, fontFamily: FONT, fill: '#222' } },
      { type: 'text', x: p.titleX, y: 65, style: { text: p.site, textAlign: 'center', textVerticalAlign: 'middle', fontSize: 13, fontFamily: FONT, fill: '#222' } },
    );
  });

  const legendItems: any[] = [
    { type: 'rect', shape: { x: 76, y: 395, width: 52, height: 82 }, style: { fill: '#fff', stroke: '#333', lineWidth: 1 } },
    { type: 'text', x: 83, y: 436, rotation: Math.PI / 2, style: { text: 'A* 10 pt average', textAlign: 'center', textVerticalAlign: 'middle', fontSize: 9, fontFamily: FONT, fill: '#222' } },
  ];
  LEGEND_LABELS.forEach((lab, k) => {
    const y = 398 + k * 15.8;
    legendItems.push(
      { type: 'rect', shape: { x: 90, y, width: 12, height: 11.5 }, style: { fill: STRIP_COLORS[k], stroke: '#333', lineWidth: 1 } },
      { type: 'text', x: 105, y: y + 6, style: { text: lab, textAlign: 'left', textVerticalAlign: 'middle', fontSize: 8, fontFamily: FONT, fill: '#333' } },
    );
  });

  return {
    animation: false,
    backgroundColor: '#fff',
    grid, xAxis, yAxis, series,
    graphic: [
      { type: 'text', x: 598, y: 17, style: { text: 'a* redness', textAlign: 'center', textVerticalAlign: 'middle', fontSize: 14, fontFamily: FONT, fill: '#222' } },
      { type: 'text', x: 17, y: 282, rotation: Math.PI / 2, style: { text: 'Age (Ma)', textAlign: 'center', textVerticalAlign: 'middle', fontSize: 12, fontFamily: FONT, fill: '#222' } },
      ...titles,
      { type: 'group', z: 20, children: legendItems },
      {
        type: 'text', x: 1155, y: 410, rotation: (33 * Math.PI) / 180, z: 50, silent: true,
        style: { text: 'ACCEPTED MANUSCRIPT', textAlign: 'right', textVerticalAlign: 'bottom', fontSize: 180, fontFamily: '"Liberation Serif", serif', fill: '#dadada' },
      },
    ],
  };
}

export default function App() {
  const ref = useRef<HTMLDivElement>(null);
  useEffect(() => {
    if (!ref.current) return;
    const chart = echarts.init(ref.current, null, { renderer: 'svg' });
    chart.setOption(buildOption() as any);
    return () => chart.dispose();
  }, []);
  return <div ref={ref} style={{ position: 'fixed', left: 0, top: 0, width: 1269, height: 488, background: '#fff' }} />;
}
